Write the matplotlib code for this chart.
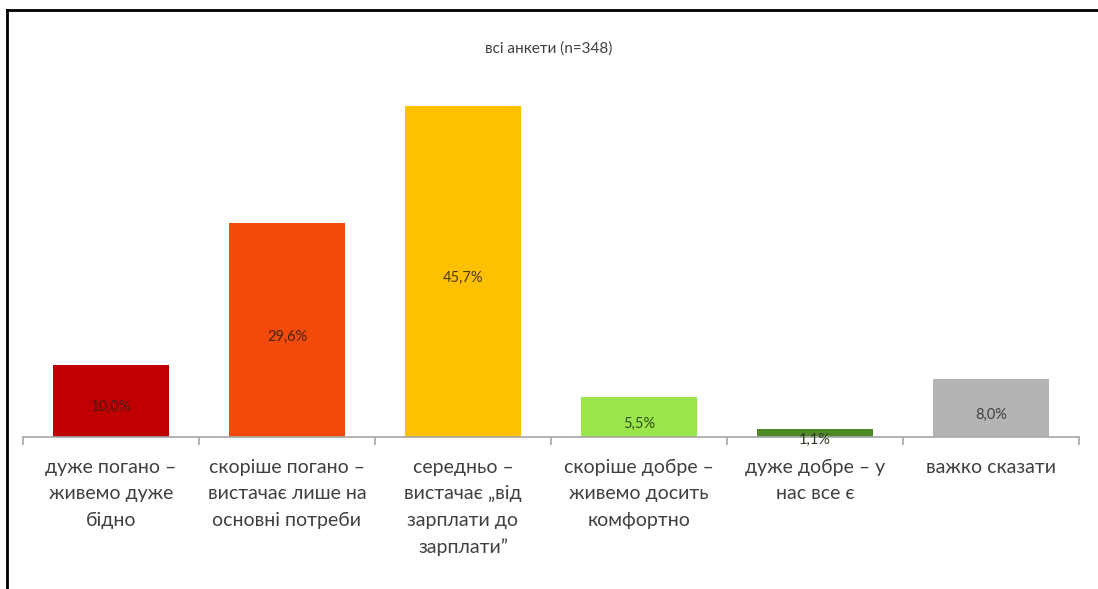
import matplotlib.pyplot as plt
from matplotlib.lines import Line2D

plt.rcParams['font.family'] = ['Lato', 'DejaVu Sans']

# дані опитування
categories = [
    "дуже погано –\nживемо дуже\nбідно",
    "скоріше погано –\nвистачає лише на\nосновні потреби",
    "середньо –\nвистачає „від\nзарплати до\nзарплати”",
    "скоріше добре –\nживемо досить\nкомфортно",
    "дуже добре – у\nнас все є",
    "важко сказати",
]
values = [10.0, 29.6, 45.7, 5.5, 1.1, 8.0]
value_labels = ["10,0%", "29,6%", "45,7%", "5,5%", "1,1%", "8,0%"]
title = "всі анкети (n=348)"

colors = ["#C00000", "#F24A0A", "#FFC000", "#9BE64B", "#4F8A27", "#B4B4B4"]
label_colors = ["#4a1a1a", "#4a2410", "#4a3a10", "#2e5214", "#2a3a20", "#404040"]

fig = plt.figure(figsize=(10.98, 5.89), dpi=100)
ax = fig.add_axes([0.0209, 0.258, 0.9618, 0.6146])

x = range(len(values))
bars = ax.bar(x, values, width=0.655, color=colors)

for i, (v, lab) in enumerate(zip(values, value_labels)):
    ax.text(i, v / 2 - 0.9, lab, ha='center', va='center',
            fontsize=10.5, color=label_colors[i])

ax.set_xlim(-0.5, len(values) - 0.5)
ax.set_ylim(0, 50)

for s in ['top', 'right', 'left']:
    ax.spines[s].set_visible(False)
ax.spines['bottom'].set_color('#a6a6a6')
ax.spines['bottom'].set_linewidth(1.2)
ax.set_yticks([])

# поділки між категоріями
ax.set_xticks([i - 0.5 for i in range(len(values) + 1)], minor=True)
ax.tick_params(axis='x', which='minor', length=6, color='#a6a6a6', width=1.2)
ax.set_xticks(list(x))
ax.set_xticklabels(categories, fontsize=14, color='#404040', linespacing=1.65)
ax.tick_params(axis='x', which='major', length=0, pad=16)

fig.text(0.5, 0.918, title, ha='center', va='center', fontsize=11, color='#404040')

# рамка зверху і зліва
fig.add_artist(Line2D([0.0064, 1.0], [0.983, 0.983], transform=fig.transFigure,
                      color='black', linewidth=2))
fig.add_artist(Line2D([0.0064, 0.0064], [0.0, 0.983], transform=fig.transFigure,
                      color='black', linewidth=2))

fig.savefig("out.png", dpi=100)
